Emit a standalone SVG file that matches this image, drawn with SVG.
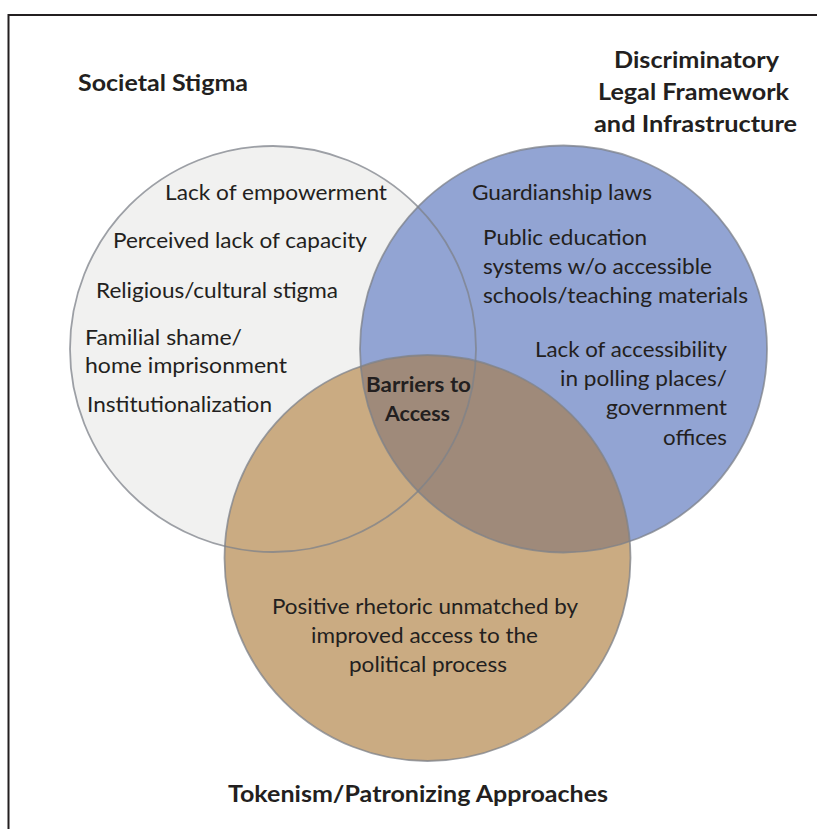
<svg xmlns="http://www.w3.org/2000/svg" width="817" height="829" viewBox="0 0 817 829">
<style>
  .t { font-family: Lato, "Open Sans", "Liberation Sans", sans-serif; font-size: 22px; fill: #231f20; }
  .b { font-family: Lato, "Open Sans", "Liberation Sans", sans-serif; font-weight: bold; font-size: 23.5px; fill: #231f20; }
  .c { font-family: Lato, "Open Sans", "Liberation Sans", sans-serif; font-weight: bold; font-size: 20.5px; fill: #231f20; }
  .ring { fill: none; stroke: #7d828a; stroke-width: 1.8; stroke-opacity: 0.75; }
</style>
<defs>
  <clipPath id="clipBlue"><circle cx="563.5" cy="349" r="203.5"/></clipPath>
</defs>
<rect width="817" height="829" fill="#ffffff"/>
<path d="M8.5,829 V15 H817" fill="none" stroke="#231f20" stroke-width="2"/>

<g id="fills">
  <circle cx="273" cy="349" r="203" fill="#f1f1f0"/>
  <circle cx="563.5" cy="349" r="203.5" fill="#92a4d3"/>
  <circle cx="427.5" cy="558" r="203" fill="#caab82"/>
  <circle cx="427.5" cy="558" r="203" fill="#9f8a7a" clip-path="url(#clipBlue)"/>
</g>
<g id="outlines">
  <circle class="ring" cx="273" cy="349" r="203"/>
  <circle class="ring" cx="563.5" cy="349" r="203.5"/>
  <circle class="ring" cx="427.5" cy="558" r="203"/>
</g>

<g id="societal-stigma">
  <text class="b" x="78" y="91" textLength="170" lengthAdjust="spacingAndGlyphs">Societal Stigma</text>
  <text class="t" x="165" y="200" textLength="222" lengthAdjust="spacingAndGlyphs">Lack of empowerment</text>
  <text class="t" x="113" y="248" textLength="254" lengthAdjust="spacingAndGlyphs">Perceived lack of capacity</text>
  <text class="t" x="96" y="298" textLength="242" lengthAdjust="spacingAndGlyphs">Religious/cultural stigma</text>
  <text class="t" x="85" y="345" textLength="157" lengthAdjust="spacingAndGlyphs">Familial shame/</text>
  <text class="t" x="85" y="373" textLength="202" lengthAdjust="spacingAndGlyphs">home imprisonment</text>
  <text class="t" x="87" y="412" textLength="185" lengthAdjust="spacingAndGlyphs">Institutionalization</text>
</g>

<g id="legal-framework">
  <text class="b" x="696.5" y="68" text-anchor="middle" textLength="165" lengthAdjust="spacingAndGlyphs">Discriminatory</text>
  <text class="b" x="693.5" y="100" text-anchor="middle" textLength="191" lengthAdjust="spacingAndGlyphs">Legal Framework</text>
  <text class="b" x="695.5" y="132" text-anchor="middle" textLength="203" lengthAdjust="spacingAndGlyphs">and Infrastructure</text>
  <text class="t" x="472" y="200" textLength="180" lengthAdjust="spacingAndGlyphs">Guardianship laws</text>
  <text class="t" x="483" y="245" textLength="164" lengthAdjust="spacingAndGlyphs">Public education</text>
  <text class="t" x="483" y="274" textLength="229" lengthAdjust="spacingAndGlyphs">systems w/o accessible</text>
  <text class="t" x="483" y="303" textLength="265" lengthAdjust="spacingAndGlyphs">schools/teaching materials</text>
  <text class="t" x="727" y="357" text-anchor="end" textLength="192" lengthAdjust="spacingAndGlyphs">Lack of accessibility</text>
  <text class="t" x="727" y="386" text-anchor="end" textLength="167" lengthAdjust="spacingAndGlyphs">in polling places/</text>
  <text class="t" x="727" y="415" text-anchor="end" textLength="121" lengthAdjust="spacingAndGlyphs">government</text>
  <text class="t" x="727" y="445" text-anchor="end" textLength="64" lengthAdjust="spacingAndGlyphs">offices</text>
</g>

<g id="barriers-to-access">
  <text class="c" x="418.5" y="392" text-anchor="middle" textLength="105" lengthAdjust="spacingAndGlyphs">Barriers to</text>
  <text class="c" x="417.5" y="421" text-anchor="middle" textLength="65" lengthAdjust="spacingAndGlyphs">Access</text>
</g>

<g id="tokenism">
  <text class="t" x="425" y="614" text-anchor="middle" textLength="306" lengthAdjust="spacingAndGlyphs">Positive rhetoric unmatched by</text>
  <text class="t" x="424.5" y="643" text-anchor="middle" textLength="227" lengthAdjust="spacingAndGlyphs">improved access to the</text>
  <text class="t" x="428" y="672" text-anchor="middle" textLength="158" lengthAdjust="spacingAndGlyphs">political process</text>
  <text class="b" x="418" y="802" text-anchor="middle" textLength="380" lengthAdjust="spacingAndGlyphs">Tokenism/Patronizing Approaches</text>
</g>

<g id="connectors"></g>
</svg>
